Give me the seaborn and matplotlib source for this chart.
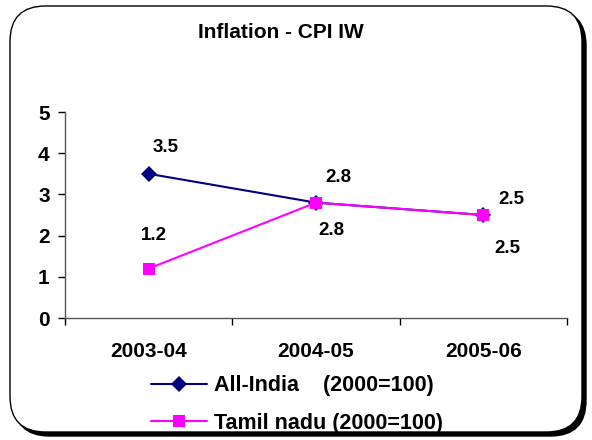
import pandas as pd
import matplotlib.pyplot as plt
import seaborn as sns
from matplotlib.patches import FancyBboxPatch

# Chart data
periods = ['2003-04', '2004-05', '2005-06']
all_india = [3.5, 2.8, 2.5]
tamil_nadu = [1.2, 2.8, 2.5]
series_names = ['All-India    (2000=100)', 'Tamil nadu (2000=100)']

df = pd.DataFrame({
    'pos': list(range(len(periods))) * 2,
    'value': all_india + tamil_nadu,
    'series': [series_names[0]] * len(periods) + [series_names[1]] * len(periods),
})

sns.set_style('white')
plt.rcParams['font.family'] = ['Liberation Sans', 'DejaVu Sans']
plt.rcParams['font.weight'] = 'bold'
plt.rcParams['text.color'] = 'black'
plt.rcParams['xtick.color'] = 'black'
plt.rcParams['ytick.color'] = 'black'

fig = plt.figure(figsize=(5.92, 4.40), dpi=100)

# rounded frame with shadow
W, H = 592, 440
shadow = FancyBboxPatch((14 / W, 4 / H), 572 / W, 426 / H,
                        boxstyle='round,pad=0,rounding_size=0.06',
                        transform=fig.transFigure, facecolor='black',
                        edgecolor='black', zorder=0, mutation_aspect=W / H)
frame = FancyBboxPatch((10 / W, 8 / H), 572 / W, 426 / H,
                       boxstyle='round,pad=0,rounding_size=0.06',
                       transform=fig.transFigure, facecolor='white',
                       edgecolor='black', linewidth=1, zorder=1,
                       mutation_aspect=W / H)
fig.patches.extend([shadow, frame])

ax = fig.add_axes([65 / W, 1 - 318 / H, (567 - 65) / W, (318 - 112) / H])
ax.set_zorder(5)
ax.set_facecolor('none')

sns.lineplot(data=df, x='pos', y='value', hue='series', style='series',
             palette=['#000080', '#FF00FF'], markers=['D', 's'], dashes=False,
             markersize=8.5, linewidth=1.5, markeredgewidth=0, ax=ax, legend=True)

ax.set_xlim(-0.5, len(periods) - 0.5)
ax.set_ylim(0, 5)
ax.set_xticks([i - 0.5 for i in range(len(periods) + 1)])
ax.set_xticklabels([])
ax.set_xticks(range(len(periods)), minor=True)
ax.set_xticklabels(periods, minor=True, fontsize=15, fontweight='bold')
ax.tick_params(axis='x', which='minor', length=0, pad=17)
ax.tick_params(axis='x', which='major', length=5, width=1, direction='out', bottom=True)
ax.set_yticks(range(6))
ax.tick_params(axis='y', length=5, width=1, direction='out', left=True, labelsize=15, pad=6)
for t in ax.get_yticklabels():
    t.set_fontweight('bold')
ax.set_xlabel('')
ax.set_ylabel('')
for s in ['top', 'right']:
    ax.spines[s].set_visible(False)
for s in ['left', 'bottom']:
    ax.spines[s].set_color('#555555')
    ax.spines[s].set_linewidth(1)

# data labels
ai_offsets = [(12, 19), (16, 18), (20, 11)]
tn_offsets = [(4, 24), (11, -20), (17, -24)]
for i, v in enumerate(all_india):
    ax.annotate(f'{v}', (i, v), xytext=ai_offsets[i], textcoords='offset points',
                ha='center', va='center', fontsize=13.5, fontweight='bold')
for i, v in enumerate(tamil_nadu):
    ax.annotate(f'{v}', (i, v), xytext=tn_offsets[i], textcoords='offset points',
                ha='center', va='center', fontsize=13.5, fontweight='bold')

handles, labels = ax.get_legend_handles_labels()
ax.legend(handles, labels, loc='upper left', bbox_to_anchor=(132 / W, 1 - 356 / H),
          bbox_transform=fig.transFigure, frameon=False, handlelength=2.6,
          handletextpad=0.33, labelspacing=0.75, prop={'size': 15.5, 'weight': 'bold'})

fig.text(281 / W, 1 - 33 / H, 'Inflation - CPI IW', ha='center', va='center',
         fontsize=15, fontweight='bold')

fig.savefig('out.png', dpi=100)
